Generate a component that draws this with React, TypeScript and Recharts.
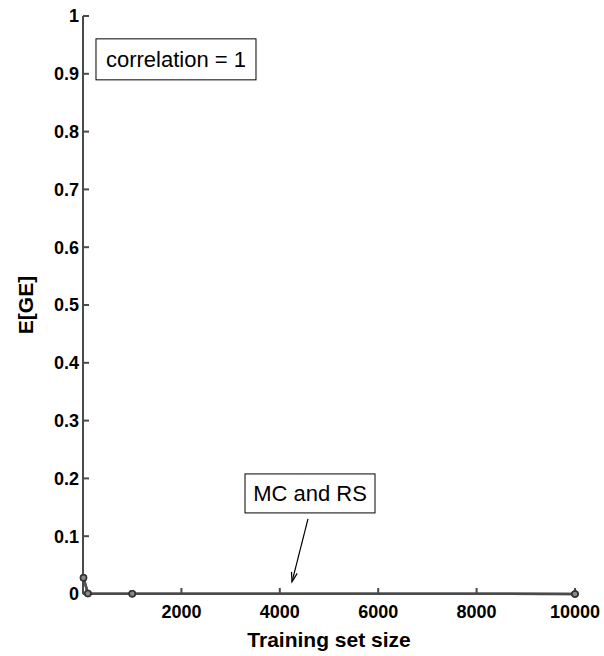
import { LineChart, Line, XAxis, YAxis, ReferenceDot, ReferenceLine, Label } from "recharts"

// training set sizes and expected generalisation error
const trainSizes = [10, 100, 1000, 10000]
const errMC = [0.028, 0.001, 0.0005, 0.0002]
const errRS = [0.028, 0.001, 0.0005, 0.0002]

const xTicks = [0, 2000, 4000, 6000, 8000, 10000]
const yTicks = [0, 0.1, 0.2, 0.3, 0.4, 0.5, 0.6, 0.7, 0.8, 0.9, 1]

const data = trainSizes.map((n, i) => ({ n, mc: errMC[i], rs: errRS[i] }))

const FONT = '"Liberation Sans", Arial, Helvetica, sans-serif'
const AXIS = "#4a4a4a"

const TextBox = (w: number, h: number, text: string) => (p: any) => (
  <g>
    <rect x={p.cx - w / 2} y={p.cy - h / 2} width={w} height={h} fill="#fff" stroke="#000" strokeWidth={1} />
    <text x={p.cx} y={p.cy + 8} textAnchor="middle" fontSize={22} fontFamily={FONT} fill="#000">
      {text}
    </text>
  </g>
)

const Arrow = (p: any) => {
  const { x1, y1, x2, y2 } = p
  const a = Math.atan2(y2 - y1, x2 - x1)
  const len = 10
  const spread = 0.3
  const ax = x2 - len * Math.cos(a - spread)
  const ay = y2 - len * Math.sin(a - spread)
  const bx = x2 - len * Math.cos(a + spread)
  const by = y2 - len * Math.sin(a + spread)
  return (
    <g>
      <line x1={x1} y1={y1} x2={x2} y2={y2} stroke="#000" strokeWidth={1.2} />
      <polyline points={`${ax},${ay} ${x2},${y2} ${bx},${by}`} fill="none" stroke="#000" strokeWidth={1.2} />
    </g>
  )
}

export default function App() {
  return (
    <div style={{ position: "absolute", left: 0, top: 0, background: "#fff" }}>
      <LineChart width={604} height={656} data={data} margin={{ top: 16, right: 29, bottom: 6, left: 23 }}>
        <XAxis
          dataKey="n"
          type="number"
          domain={[0, 10000]}
          ticks={xTicks}
          tickFormatter={(v) => (v === 0 ? "" : String(v))}
          height={56}
          stroke={AXIS}
          strokeWidth={2}
          tickSize={-6}
          tickMargin={17}
          tick={{ fill: "#000", fontSize: 18, fontWeight: "bold", fontFamily: FONT }}
          interval={0}
        >
          <Label
            content={(p: any) => (
              <text
                x={p.viewBox.x + p.viewBox.width / 2}
                y={647}
                textAnchor="middle"
                fontSize={21}
                fontWeight="bold"
                fontFamily={FONT}
                fill="#000"
              >
                Training set size
              </text>
            )}
          />
        </XAxis>
        <YAxis
          type="number"
          domain={[0, 1]}
          ticks={yTicks}
          width={60}
          stroke={AXIS}
          strokeWidth={2}
          tickSize={-6}
          tickMargin={10}
          tick={{ fill: "#000", fontSize: 18, fontWeight: "bold", fontFamily: FONT }}
          interval={0}
        >
          <Label
            content={(p: any) => {
              const cy = p.viewBox.y + p.viewBox.height / 2
              return (
                <text
                  x={33}
                  y={cy}
                  transform={`rotate(-90, 33, ${cy})`}
                  textAnchor="middle"
                  fontSize={21}
                  fontWeight="bold"
                  fontFamily={FONT}
                  fill="#000"
                >
                  E[GE]
                </text>
              )
            }}
          />
        </YAxis>
        <Line
          dataKey="mc"
          stroke="#555"
          strokeWidth={2.5}
          dot={{ r: 3, stroke: "#333", strokeWidth: 1.5, fill: "#888" }}
          isAnimationActive={false}
        />
        <Line
          dataKey="rs"
          stroke="#555"
          strokeWidth={2.5}
          dot={{ r: 3, stroke: "#333", strokeWidth: 1.5, fill: "#888" }}
          isAnimationActive={false}
        />
        <ReferenceLine
          segment={[
            { x: 4573, y: 0.13 },
            { x: 4248, y: 0.021 },
          ]}
          shape={Arrow}
        />
        <ReferenceDot x={1890} y={0.925} shape={TextBox(160, 41, "correlation = 1")} />
        <ReferenceDot x={4614} y={0.174} shape={TextBox(130, 39, "MC and RS")} />
      </LineChart>
    </div>
  )
}
